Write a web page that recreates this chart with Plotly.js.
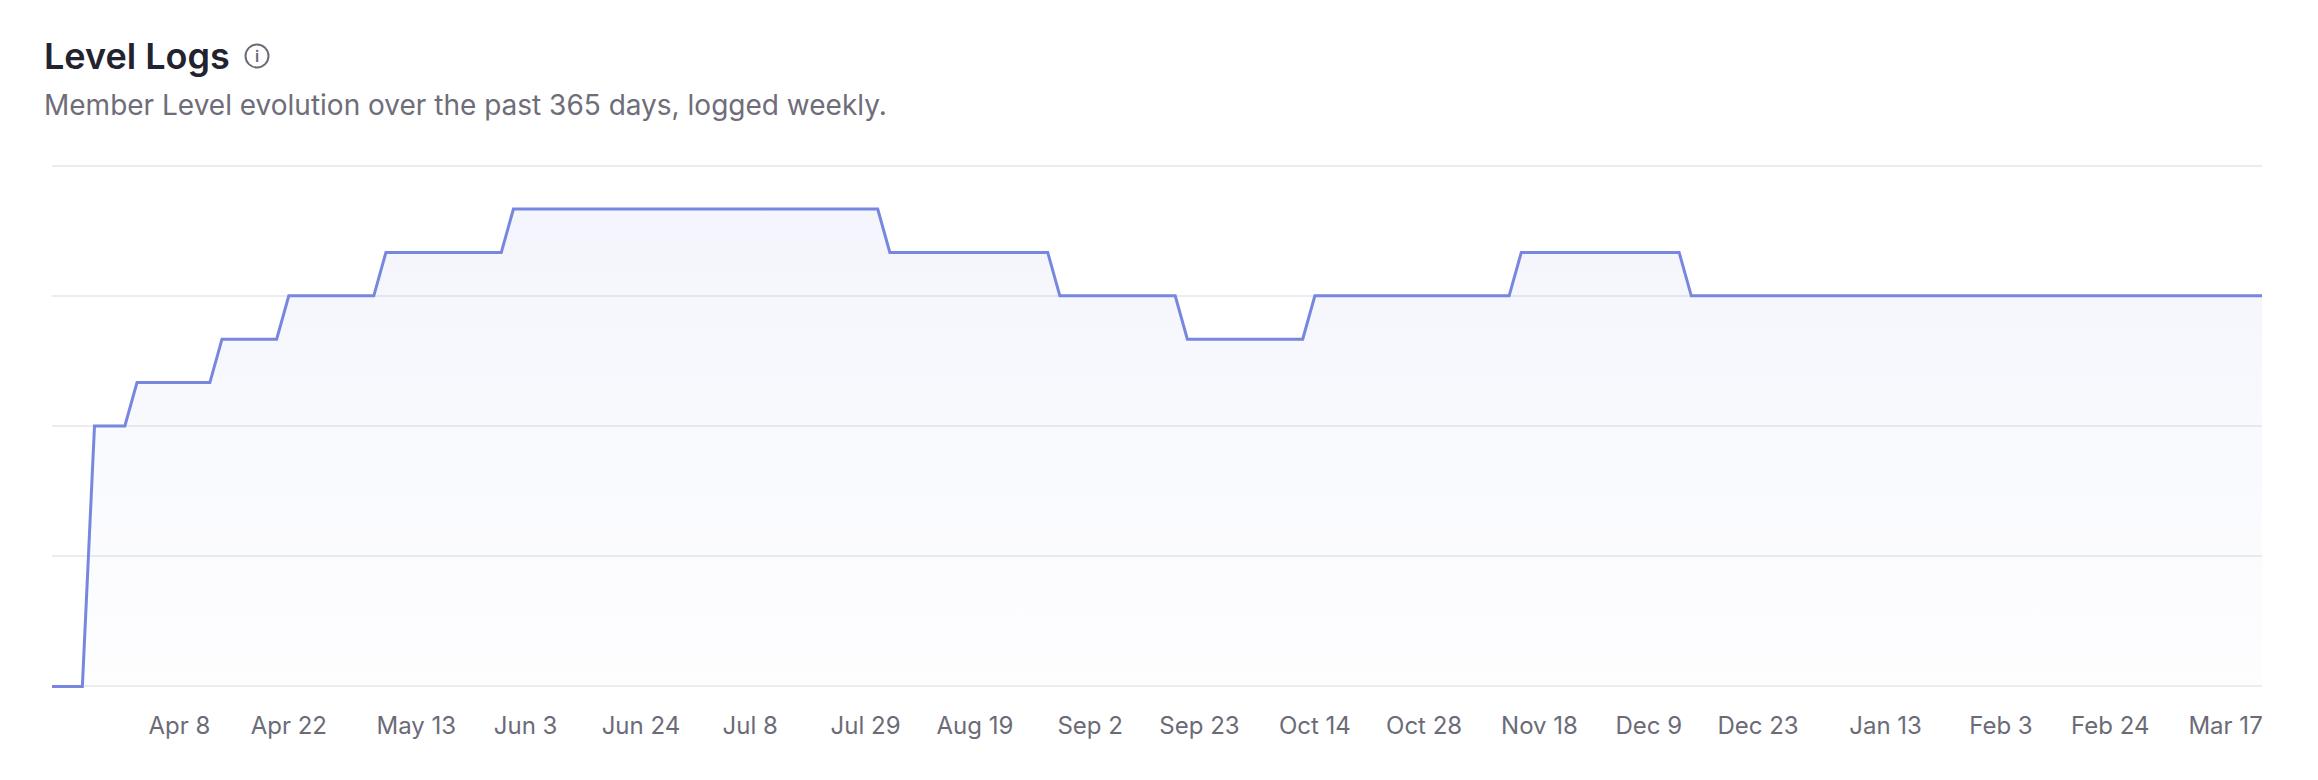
<!DOCTYPE html>
<html>
<head>
<meta charset="utf-8">
<script src="https://cdn.plot.ly/plotly-3.0.1.min.js"></script>
<style>
    html, body { margin: 0; padding: 0; background: #ffffff; }
    #levelLogsGraphDiv { width: 2318px; height: 780px; }
</style>
</head>
<body>
<div id="levelLogsGraphDiv"></div>
<script>
"use strict";

// logged member level, one point either side of each change
const logDates = [
    '2024-03-18', '2024-03-23', '2024-03-25', '2024-03-30', '2024-04-01',
    '2024-04-13', '2024-04-15', '2024-04-24', '2024-04-26', '2024-05-10',
    '2024-05-12', '2024-05-31', '2024-06-02', '2024-08-01', '2024-08-03',
    '2024-08-29', '2024-08-31', '2024-09-19', '2024-09-21', '2024-10-10',
    '2024-10-12', '2024-11-13', '2024-11-15', '2024-12-11', '2024-12-13',
    '2025-03-17'
];
const levelValues = [
    0, 0, 6, 6, 7,
    7, 8, 8, 9, 9,
    10, 10, 11, 11, 10,
    10, 9, 9, 8, 8,
    9, 9, 10, 10, 9,
    9
];

// week labels shown under the chart and where they sit on the axis
const tickLabels = [
    'Apr 8', 'Apr 22', 'May 13', 'Jun 3', 'Jun 24', 'Jul 8', 'Jul 29', 'Aug 19', 'Sep 2',
    'Sep 23', 'Oct 14', 'Oct 28', 'Nov 18', 'Dec 9', 'Dec 23', 'Jan 13', 'Feb 3', 'Feb 24', 'Mar 17'
];
const tickPositions = [
    '2024-04-08', '2024-04-26', '2024-05-17', '2024-06-04', '2024-06-23', '2024-07-11',
    '2024-07-30', '2024-08-17', '2024-09-05', '2024-09-23', '2024-10-12', '2024-10-30',
    '2024-11-18', '2024-12-06', '2024-12-24', '2025-01-14', '2025-02-02', '2025-02-20',
    '2025-03-11'
];

const levelGridValues = [0, 3, 6, 9, 12];

const chartTitle = 'Level Logs';
const chartSubtitle = 'Member Level evolution over the past 365 days, logged weekly.';

const lineColor = '#7787e0';
const fontFamily = 'Inter, "Noto Sans", sans-serif';

const figWidth = 2318;
const figHeight = 780;
const margin = { l: 52, r: 56, t: 163, b: 91 };
const plotWidth = figWidth - margin.l - margin.r;
const plotHeight = figHeight - margin.t - margin.b;

// small pad both ends so the 0 line and the top grid line are not cut
const yRange = [-0.06, 12.06];

// pixel -> paper helpers for the header items above the plot
function paperX(px) {
    return (px - margin.l) / plotWidth;
}
function paperY(py) {
    return (figHeight - margin.b - py) / plotHeight;
}

var levelTrace = {
    x: logDates,
    y: levelValues,
    type: 'scatter',
    mode: 'lines',
    line: { color: lineColor, width: 3, shape: 'linear' },
    fill: 'tozeroy',
    fillgradient: {
        type: 'vertical',
        colorscale: [
            [0, 'rgba(119,135,224,0.01)'],
            [1, 'rgba(119,135,224,0.08)']
        ]
    },
    hoverinfo: 'skip'
};

var iconRadius = 11.5;
var iconX = 257;
var iconY = 56;

var levelLayout = {
    width: figWidth,
    height: figHeight,
    margin: margin,
    paper_bgcolor: '#ffffff',
    plot_bgcolor: '#ffffff',
    showlegend: false,
    font: { family: fontFamily, color: '#6b6b78' },
    xaxis: {
        type: 'date',
        range: [logDates[0], logDates[logDates.length - 1]],
        showgrid: false,
        zeroline: false,
        showline: false,
        tickmode: 'array',
        tickvals: tickPositions,
        ticktext: tickLabels,
        ticks: '',
        ticklabelstandoff: 20,
        tickfont: { family: fontFamily, size: 24, color: '#6b6b78' },
        fixedrange: true
    },
    yaxis: {
        range: yRange,
        tickmode: 'array',
        tickvals: levelGridValues,
        showticklabels: false,
        ticks: '',
        showgrid: true,
        gridcolor: '#ececf0',
        gridwidth: 2,
        zeroline: false,
        showline: false,
        fixedrange: true
    },
    shapes: [
        {
            type: 'circle',
            xref: 'paper',
            yref: 'paper',
            x0: paperX(iconX - iconRadius),
            x1: paperX(iconX + iconRadius),
            y0: paperY(iconY + iconRadius),
            y1: paperY(iconY - iconRadius),
            line: { color: '#6b6b78', width: 2 }
        }
    ],
    annotations: [
        {
            text: chartTitle,
            xref: 'paper',
            yref: 'paper',
            x: paperX(42),
            y: paperY(56),
            xanchor: 'left',
            yanchor: 'middle',
            showarrow: false,
            font: { family: fontFamily, size: 36, color: '#23222f', weight: 600 }
        },
        {
            text: 'i',
            xref: 'paper',
            yref: 'paper',
            x: paperX(iconX),
            y: paperY(iconY),
            xanchor: 'center',
            yanchor: 'middle',
            showarrow: false,
            font: { family: fontFamily, size: 16, color: '#6b6b78', weight: 600 }
        },
        {
            text: chartSubtitle,
            xref: 'paper',
            yref: 'paper',
            x: paperX(42),
            y: paperY(105),
            xanchor: 'left',
            yanchor: 'middle',
            showarrow: false,
            font: { family: fontFamily, size: 28, color: '#6e6d7a' }
        }
    ]
};

Plotly.newPlot('levelLogsGraphDiv', [levelTrace], levelLayout, { staticPlot: true, displayModeBar: false });
</script>
</body>
</html>
